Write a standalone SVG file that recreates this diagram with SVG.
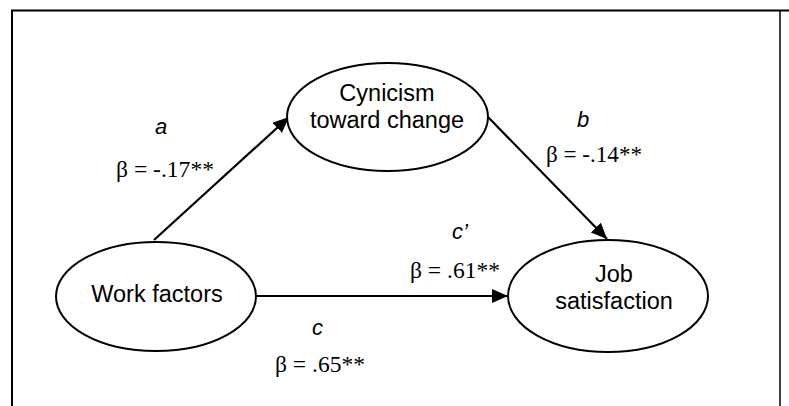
<svg xmlns="http://www.w3.org/2000/svg" width="789" height="406" viewBox="0 0 789 406">
<style>
.node ellipse{fill:#fff;stroke:#000;stroke-width:2}
.nt{font-family:"Liberation Sans",Arial,sans-serif;font-size:23.5px;fill:#000;text-anchor:middle}
.lt{font-family:"Liberation Sans",Arial,sans-serif;font-size:22px;font-style:italic;fill:#000}
.bt{font-family:"Liberation Serif","Times New Roman",serif;font-size:23px;fill:#000}
.conn line{stroke:#000;stroke-width:2.2;fill:none}
</style>
<defs>
<marker id="arr" markerUnits="userSpaceOnUse" markerWidth="18" markerHeight="16" refX="16" refY="7" orient="auto">
<path d="M0,0 L16,7 L0,14 z" fill="#000"/>
</marker>
</defs>
<rect width="789" height="406" fill="#fff"/>
<path d="M12,406 V10.5 H789" fill="none" stroke="#000" stroke-width="2"/>
<line x1="780" y1="10" x2="780" y2="406" stroke="#000" stroke-width="1.5"/>
<g id="connectors" class="conn">
<line x1="154" y1="240" x2="289" y2="117" marker-end="url(#arr)"/>
<line x1="488" y1="117" x2="607" y2="239" marker-end="url(#arr)"/>
<line x1="256" y1="296" x2="508" y2="296" marker-end="url(#arr)"/>
</g>
<g id="node-cynicism" class="node">
<ellipse cx="387.5" cy="117" rx="100.5" ry="54"/>
<text class="nt" x="387" y="100.5">Cynicism</text>
<text class="nt" x="387" y="128">toward change</text>
</g>
<g id="node-work" class="node">
<ellipse cx="156" cy="296.5" rx="100" ry="54.5"/>
<text class="nt" x="157" y="301.5">Work factors</text>
</g>
<g id="node-job" class="node">
<ellipse cx="608" cy="296" rx="100" ry="56"/>
<text class="nt" x="614" y="282">Job</text>
<text class="nt" x="614" y="309">satisfaction</text>
</g>
<g id="labels">
<text class="lt" x="155" y="134">a</text>
<text class="bt" x="116" y="177" textLength="98" lengthAdjust="spacingAndGlyphs">β = -.17**</text>
<text class="lt" x="577" y="127">b</text>
<text class="bt" x="546" y="162" textLength="96" lengthAdjust="spacingAndGlyphs">β = -.14**</text>
<text class="lt" x="452" y="239">c’</text>
<text class="bt" x="410" y="278" textLength="90" lengthAdjust="spacingAndGlyphs">β = .61**</text>
<text class="lt" x="312" y="335">c</text>
<text class="bt" x="275" y="372" textLength="90" lengthAdjust="spacingAndGlyphs">β = .65**</text>
</g>
</svg>
